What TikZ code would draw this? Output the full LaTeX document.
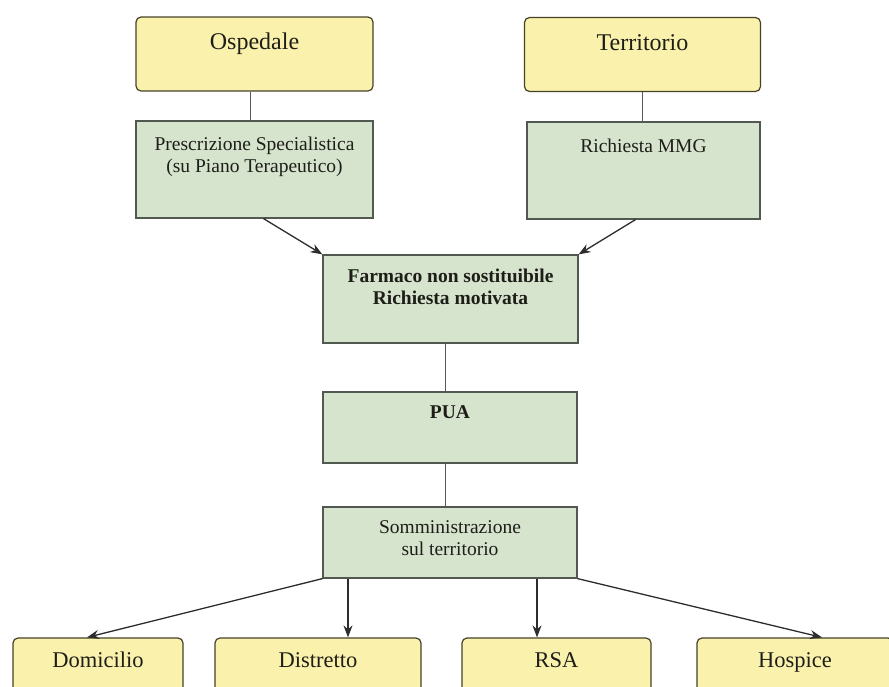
\documentclass[tikz,border=0pt]{standalone}
\usepackage{fontspec}
\setmainfont{Liberation Serif}
\usetikzlibrary{arrows.meta}
\definecolor{yfill}{RGB}{250,241,172}
\definecolor{gfill}{RGB}{214,228,205}
\definecolor{ydraw}{RGB}{70,66,40}
\definecolor{gdraw}{RGB}{80,88,80}
\definecolor{linec}{RGB}{45,45,45}
\definecolor{txtc}{RGB}{30,30,25}
\tikzset{
  ybox/.style={draw=ydraw, fill=yfill, line width=1.2pt, rounded corners=5pt, inner sep=0pt},
  gbox/.style={draw=gdraw, fill=gfill, line width=1.2pt, inner sep=0pt},
  bigtxt/.style={font=\fontsize{24}{28}\selectfont, text=txtc, inner sep=0pt},
  bottxt/.style={font=\fontsize{22.5}{26}\selectfont, text=txtc, inner sep=0pt, anchor=base},
  smalltxt/.style={font=\fontsize{19.5}{22}\selectfont, text=txtc, inner sep=0pt, align=center},
  link/.style={draw=linec!80, line width=1pt},
  arr/.style={draw=linec, line width=1.3pt, -{Stealth[length=12pt,width=9pt]}}
}
\begin{document}
\begin{tikzpicture}[x=1pt,y=-1pt]
\useasboundingbox (0,0) rectangle (889,686);
\fill[white] (0,0) rectangle (889,686);
% boxes
\node[ybox, minimum width=237pt, minimum height=74pt] (osp) at (254.5,54) {};
\node[gbox, minimum width=237pt, minimum height=97pt] (presc) at (254.5,169.5) {};
\node[ybox, minimum width=236pt, minimum height=74pt] (terr) at (642.5,54.5) {};
\node[gbox, minimum width=233pt, minimum height=97pt] (rich) at (643.5,170.5) {};
\node[gbox, minimum width=255pt, minimum height=88pt] (farm) at (450.5,299) {};
\node[gbox, minimum width=254pt, minimum height=71pt] (pua) at (450,427.5) {};
\node[gbox, minimum width=254pt, minimum height=71pt] (somm) at (450,542.5) {};
\node[ybox, minimum width=170pt, minimum height=74pt] (dom) at (98,675) {};
\node[ybox, minimum width=206pt, minimum height=74pt] (dist) at (318,675) {};
\node[ybox, minimum width=189pt, minimum height=74pt] (rsa) at (556.5,675) {};
\node[ybox, minimum width=196pt, minimum height=74pt] (hosp) at (795,675) {};
% texts
\node[bigtxt] (ospT) at ([yshift=-27pt]osp.north) {Ospedale};
\node[bigtxt] (terrT) at ([yshift=-26pt]terr.north) {Territorio};
\node[smalltxt] (prescT) at ([yshift=-36pt]presc.north) {Prescrizione Specialistica\\(su Piano Terapeutico)};
\node[smalltxt] (richT) at ([yshift=-24pt]rich.north) {Richiesta MMG};
\node[smalltxt, font=\fontsize{19.5}{22}\selectfont\bfseries] (farmT) at ([yshift=-32pt]farm.north) {Farmaco non sostituibile\\Richiesta motivata};
\node[smalltxt, font=\fontsize{19.5}{22}\selectfont\bfseries] (puaT) at ([yshift=-21pt]pua.north) {PUA};
\node[smalltxt] (sommT) at ([yshift=-32pt]somm.north) {Somministrazione\\sul territorio};
\node[bottxt] (domT) at ([yshift=-30pt]dom.north) {Domicilio};
\node[bottxt] (distT) at ([yshift=-30pt]dist.north) {Distretto};
\node[bottxt] (rsaT) at ([yshift=-30pt]rsa.north) {RSA};
\node[bottxt] (hospT) at ([yshift=-30pt]hosp.north) {Hospice};
% connectors
\draw[link] ([xshift=-4pt]osp.south) -- ([xshift=-4pt]presc.north);
\draw[link] (terr.south) -- (terr.south |- rich.north);
\draw[arr] ([xshift=9pt]presc.south) -- (farm.north west);
\draw[arr] ([xshift=-8pt]rich.south) -- (farm.north east);
\draw[link] ([xshift=-5pt]farm.south) -- ([xshift=-5pt]farm.south |- pua.north);
\draw[link] ([xshift=-5pt]pua.south) -- ([xshift=-5pt]pua.south |- somm.north);
\draw[arr] (somm.south west) -- ([xshift=-11pt]dom.north);
\draw[arr] ([xshift=30pt]dist.north |- somm.south) -- ([xshift=30pt]dist.north);
\draw[arr] ([xshift=-19.5pt]rsa.north |- somm.south) -- ([xshift=-19.5pt]rsa.north);
\draw[arr] (somm.south east) -- ([xshift=27pt]hosp.north);
\end{tikzpicture}
\end{document}
